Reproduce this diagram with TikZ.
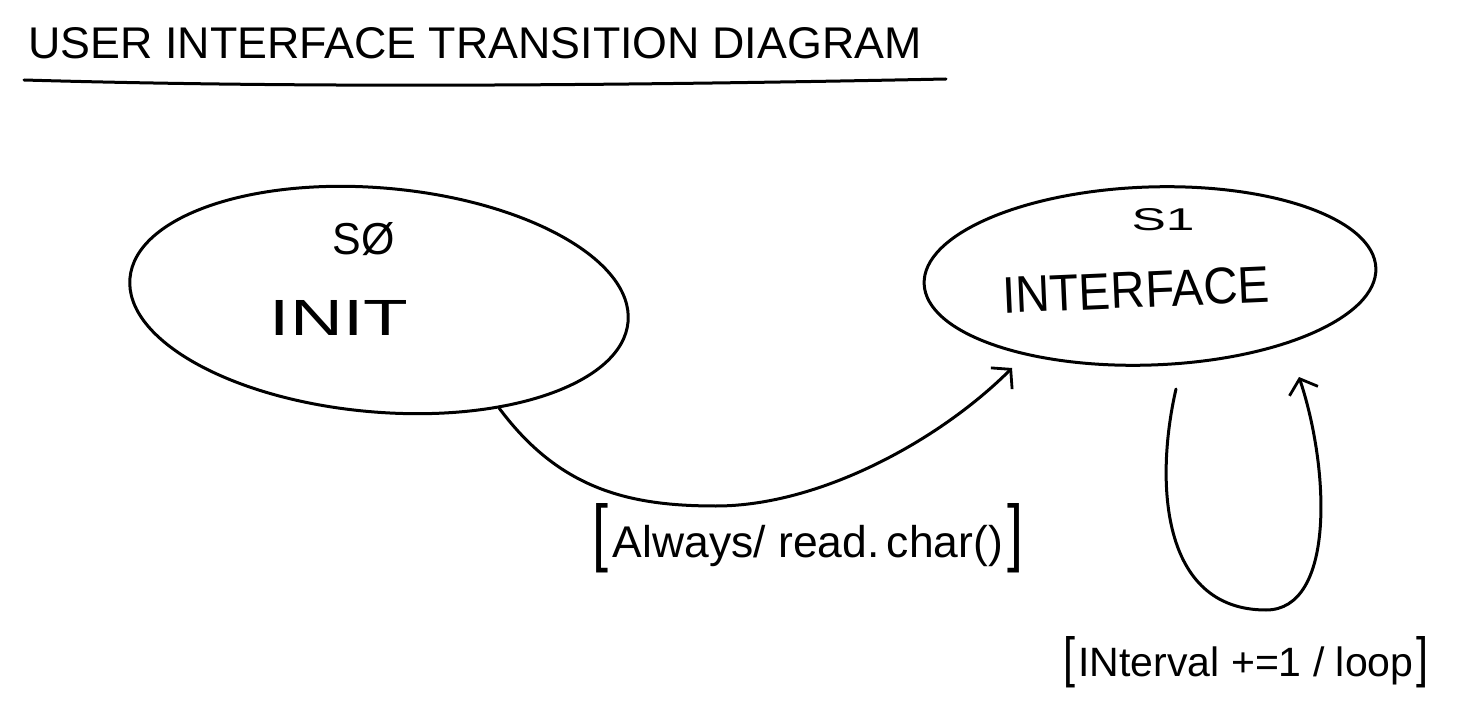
\documentclass[tikz,border=0pt]{standalone}
\usepackage{fontspec}
\setmainfont{Liberation Sans}
\usetikzlibrary{arrows.meta,shapes.geometric}
\newcommand\fitbox[3]{\resizebox{#1}{#2}{#3}}
\begin{document}
\begin{tikzpicture}[x=1pt,y=-1pt,
  stroke/.style={line width=3pt, line cap=round, line join=round},
  state/.style={ellipse, draw, line width=3pt, inner sep=0pt},
  lbl/.style={inner sep=0pt, anchor=center},
  arr/.style={stroke, -{Straight Barb[length=13pt,width=30pt,line width=2.8pt]}}
]
\useasboundingbox (0,0) rectangle (1470,711);
\fill[white] (0,0) rectangle (1470,711);

% title
\node[lbl] (title) at (475,43) {\fitbox{893pt}{31pt}{USER INTERFACE TRANSITION DIAGRAM}};
\draw[stroke] (24,80) .. controls (300,88) and (600,86) .. (946,79);

% states
\node[state, minimum width=500pt, minimum height=224pt, rotate=-5] (s0) at (379,300) {};
\node[state, minimum width=452pt, minimum height=178pt, rotate=2] (s1) at (1150,276) {};

\node[lbl] (s0id) at (364,239) {\fitbox{62pt}{32pt}{SØ}};
\node[lbl] (s0name) at (339,318) {\fitbox{138pt}{35pt}{INIT}};
\node[lbl] (s1id) at (1163,220) {\fitbox{63pt}{22pt}{S1}};
\node[lbl, rotate=2.5] (s1name) at (1136,290) {\fitbox{267pt}{36pt}{INTERFACE}};

% transition s0 -> s1
\coordinate (t1end) at (1012,368);
\draw[arr] (s0.-37) .. controls (560,490) and (630,506) .. (716,506)
  .. controls (820,506) and (940,440) .. (t1end);
\node[lbl] (t1lbl) at (808,538) {\fitbox{16pt}{54pt}{[}\hspace{4pt}\resizebox{390pt}{!}{Always/ read.\,char()}\hspace{4pt}\fitbox{16pt}{54pt}{]}};

% self loop on s1
\coordinate (l1start) at (1176,389);
\coordinate (l1end) at (1299,377);
\draw[arr] (l1start) .. controls (1155,480) and (1160,610) .. (1266,610)
  .. controls (1335,610) and (1330,470) .. (l1end);
\node[lbl] (t2lbl) at (1246,662) {\fitbox{12pt}{40pt}{[}\hspace{3pt}\resizebox{335pt}{!}{INterval +=1 / loop}\hspace{3pt}\fitbox{12pt}{40pt}{]}};
\end{tikzpicture}
\end{document}
